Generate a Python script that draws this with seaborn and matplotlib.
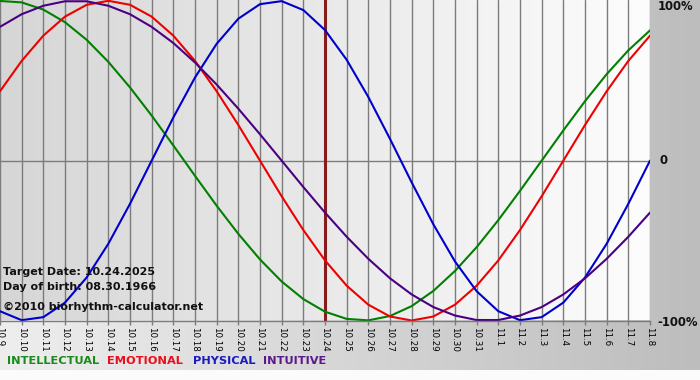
import numpy as np
import pandas as pd
import matplotlib
matplotlib.use("Agg")
import matplotlib.pyplot as plt
from matplotlib.colors import LinearSegmentedColormap
import seaborn as sns

# ---- data ----
dates = ["10.9", "10.10", "10.11", "10.12", "10.13", "10.14", "10.15", "10.16",
         "10.17", "10.18", "10.19", "10.20", "10.21", "10.22", "10.23", "10.24",
         "10.25", "10.26", "10.27", "10.28", "10.29", "10.30", "10.31",
         "11.1", "11.2", "11.3", "11.4", "11.5", "11.6", "11.7", "11.8"]
intellectual = [0.999, 0.990, 0.945, 0.866, 0.756, 0.618, 0.458, 0.282, 0.095,
                -0.095, -0.282, -0.458, -0.618, -0.756, -0.866, -0.945, -0.990,
                -0.999, -0.972, -0.910, -0.815, -0.690, -0.541, -0.372, -0.189,
                0.0, 0.189, 0.372, 0.541, 0.690, 0.815]
emotional = [0.434, 0.624, 0.782, 0.901, 0.975, 1.0, 0.975, 0.901, 0.782, 0.624,
             0.434, 0.223, 0.0, -0.223, -0.434, -0.624, -0.782, -0.901, -0.975,
             -1.0, -0.975, -0.901, -0.782, -0.624, -0.434, -0.223, 0.0, 0.223,
             0.434, 0.624, 0.782]
physical = [-0.942, -0.998, -0.979, -0.888, -0.731, -0.520, -0.270, 0.0, 0.270,
            0.520, 0.731, 0.888, 0.979, 0.998, 0.942, 0.817, 0.631, 0.398, 0.136,
            -0.136, -0.398, -0.631, -0.817, -0.942, -0.998, -0.979, -0.888,
            -0.731, -0.520, -0.270, 0.0]
intuitive = [0.837, 0.916, 0.969, 0.997, 0.997, 0.969, 0.916, 0.837, 0.736,
             0.614, 0.476, 0.325, 0.165, 0.0, -0.165, -0.325, -0.476, -0.614,
             -0.736, -0.837, -0.916, -0.969, -0.997, -0.997, -0.969, -0.916,
             -0.837, -0.736, -0.614, -0.476, -0.325]
target_date = "10.24"
series_names = ["INTELLECTUAL", "EMOTIONAL", "PHYSICAL", "INTUITIVE"]
series_colors = ["#008000", "#ee0000", "#0000cc", "#4b0082"]
label_colors = ["#1a8a1a", "#e8101c", "#1a1ac0", "#5a1a8a"]

# ---- build table ----
day_idx = list(range(len(dates)))
df = pd.DataFrame({
    "day": day_idx * 4,
    "value": intellectual + emotional + physical + intuitive,
    "series": sum([[n] * len(dates) for n in series_names], []),
})

sns.set_theme(style="white")
plt.rcParams["font.family"] = ["DejaVu Sans"]

W, H = 700, 380
fig = plt.figure(figsize=(7, 3.8), dpi=100, facecolor="#fbfbfb")

def fx(x):
    return x / W

def fy(y):
    return 1 - y / H

# background gradient band
bg = fig.add_axes([0, 0, 1, 1], zorder=0)
bg.axis("off")
grad = np.linspace(0, 1, 256).reshape(1, -1)
bg_cmap = LinearSegmentedColormap.from_list("bg", ["#eeeeee", "#bdbdbd"])
bg.imshow(grad, cmap=bg_cmap, extent=[0, W, 370, 0], aspect="auto")
bg.set_xlim(0, W)
bg.set_ylim(H, 0)

# plot area
ax_h = 320.5
ax = fig.add_axes([0, fy(ax_h), fx(650), ax_h / H], zorder=1)
plot_cmap = LinearSegmentedColormap.from_list("pl", ["#d6d6d6", "#fdfdfd"])
ax.imshow(grad, cmap=plot_cmap, extent=[0, len(dates) - 1, -1, 1.005],
          aspect="auto", zorder=0)

ax.set_xticks(day_idx)
ax.grid(axis="x", color="#7c7c7c", lw=1.0)
ax.grid(axis="y", visible=False)
ax.set_axisbelow(True)
ax.axhline(0, color="#7c7c7c", lw=1.0, zorder=0.6)
ax.axvline(dates.index(target_date), color="#861c1c", lw=2.2, zorder=1.5)

sns.lineplot(data=df, x="day", y="value", hue="series", hue_order=series_names,
             palette=series_colors, linewidth=1.5, legend=False, sort=False,
             ax=ax, zorder=2, solid_joinstyle="round", solid_capstyle="round")

ax.set_xlim(0, len(dates) - 1)
ax.set_ylim(-1, 1.005)
ax.set_xticklabels(dates, rotation=270, fontsize=6.3, color="black")
ax.set_yticks([])
ax.set_xlabel("")
ax.set_ylabel("")
ax.tick_params(axis="x", bottom=True, length=3, width=1, color="#7c7c7c", pad=1.5)
for s in ["top", "left", "right"]:
    ax.spines[s].set_visible(False)
ax.spines["bottom"].set_color("#7c7c7c")
ax.spines["bottom"].set_linewidth(1.0)
ax.patch.set_alpha(0)

# right-hand percentage labels
rfont = dict(fontsize=8.4, fontweight="bold", color="#111111", ha="left")
fig.text(fx(658), fy(7), "100%", va="center", **rfont)
fig.text(fx(659), fy(161), "0", va="center", **rfont)
fig.text(fx(657), fy(322), "-100%", va="center", **rfont)

# annotations inside the plot
afont = dict(fontsize=8, fontweight="bold", color="#111111", ha="left",
             va="center", zorder=5)
fig.text(fx(3), fy(272), "Target Date: 10.24.2025", **afont)
fig.text(fx(3), fy(287), "Day of birth: 08.30.1966", **afont)
fig.text(fx(3), fy(307), "\u00a92010 biorhythm-calculator.net", **afont)

# legend row
legend_x = [7, 107, 193, 263]
for name, col, lx in zip(series_names, label_colors, legend_x):
    fig.text(fx(lx), fy(361.5), name, color=col, fontsize=8.2,
             fontweight="bold", ha="left", va="center")

fig.savefig("out.png", dpi=100, facecolor=fig.get_facecolor())
